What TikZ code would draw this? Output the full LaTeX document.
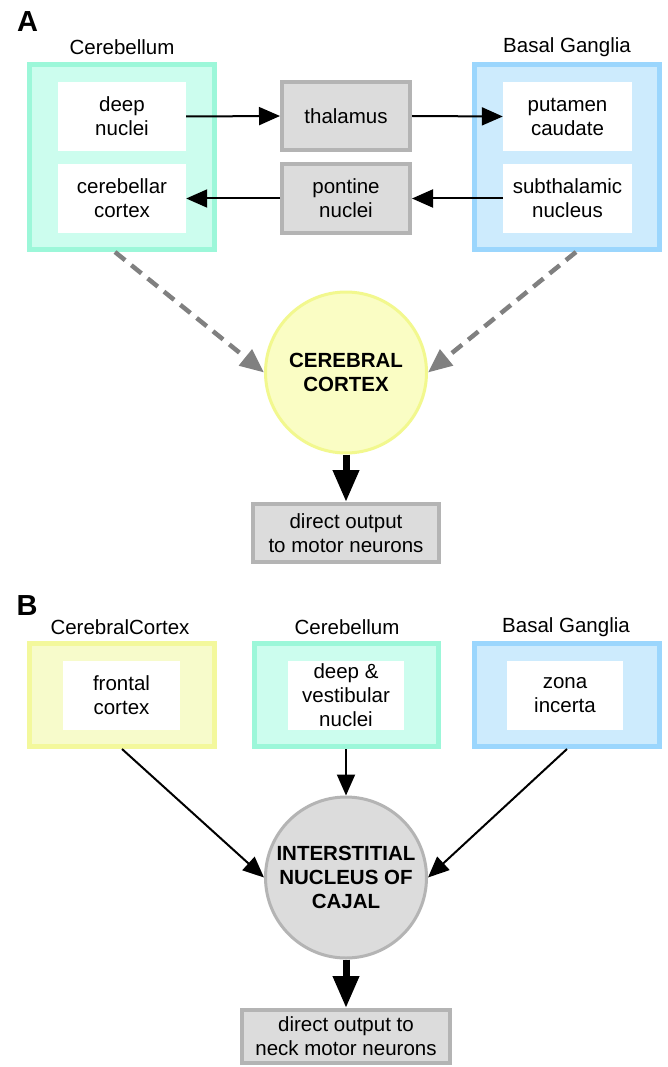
\documentclass[tikz,border=0pt]{standalone}
\usepackage{fontspec}
\setmainfont{Liberation Sans}
\usetikzlibrary{arrows.meta}
\definecolor{tealB}{HTML}{9CF7D9}
\definecolor{tealF}{HTML}{CCFDEE}
\definecolor{blueB}{HTML}{9BD6FD}
\definecolor{blueF}{HTML}{CDEBFD}
\definecolor{yelB}{HTML}{F3F89C}
\definecolor{yelF}{HTML}{F7FBCB}
\definecolor{cyelF}{HTML}{FAFDC4}
\definecolor{cyelB}{HTML}{F2F88E}
\definecolor{greyF}{HTML}{DCDCDC}
\definecolor{greyB}{HTML}{B4B4B4}
\definecolor{dashG}{HTML}{808080}
\begin{document}
\begin{tikzpicture}[x=1pt,y=-1pt,
  txt/.style={inner sep=0pt,font=\fontsize{20.5}{24}\selectfont, align=center, text=black},
  region/.style={inner sep=0pt,line width=5pt, minimum width=185pt},
  innerbox/.style={txt, fill=white, minimum height=69pt},
  greybox/.style={txt, draw=greyB, fill=greyF, line width=4pt},
  hub/.style={circle, inner sep=0pt, line width=3pt, font=\bfseries\fontsize{20.5}{24}\selectfont, align=center, minimum size=161pt},
  thinarrow/.style={line width=2pt, -{Triangle[length=21pt,width=18pt]}},
  dashy/.style={draw=dashG, line width=4.5pt, dash pattern=on 13pt off 8pt, -{Triangle[length=24pt,width=20pt]}},
  thickarrow/.style={line width=7pt, -{Triangle[length=32pt,width=25pt]}},
  panel/.style={inner sep=0pt,font=\bfseries\fontsize{29}{29}\selectfont}
]
\useasboundingbox (0,0) rectangle (667,1067);
\fill[white] (0,0) rectangle (667,1067);

% ---------- Panel A ----------
\node[panel] (labA) at (27.5,22) {A};
\node[txt] (tcbA) at (122,47) {Cerebellum};
\node[txt] (tbgA) at (567,47) {Basal Ganglia};

\node[region, draw=tealB, fill=tealF, minimum height=185pt] (cbA) at (122,157) {};
\node[region, draw=blueB, fill=blueF, minimum height=185pt] (bgA) at (567,157) {};

\node[innerbox, minimum width=128pt] (deepA) at (122,116.5) {deep\\nuclei};
\node[innerbox, minimum width=128pt] (ccA) at (122,198.5) {cerebellar\\cortex};
\node[innerbox, minimum width=129pt] (put) at (567.5,116.5) {putamen\\caudate};
\node[innerbox, minimum width=129pt] (sub) at (567.5,198.5) {subthalamic\\nucleus};

\node[greybox, minimum width=128pt, minimum height=68pt] (thal) at (346,116) {thalamus};
\node[greybox, minimum width=128pt, minimum height=69pt] (pont) at (346,198.5) {pontine\\nuclei};

\node[hub, draw=cyelB, fill=cyelF] (ccirc) at (346,372.5) {CEREBRAL\\CORTEX};
\node[greybox, minimum width=186pt, minimum height=58pt] (outA) at (346,533) {direct output\\to motor neurons};

\draw[thinarrow] (deepA.east) -- (thal.west);
\draw[thinarrow] (thal.east) -- (put.west);
\draw[thinarrow] (sub.west) -- (pont.east);
\draw[thinarrow] (pont.west) -- (ccA.east);

\coordinate (dA1) at (115,252);
\coordinate (dA2) at (576,252);
\draw[dashy] (dA1) -- (ccirc.west);
\draw[dashy] (dA2) -- (ccirc.east);
\draw[thickarrow] (ccirc.south) -- (outA.north);

% ---------- Panel B ----------
\node[panel] (labB) at (27,606) {B};
\node[txt] (tccB) at (120,627) {CerebralCortex};
\node[txt] (tcbB) at (347,627) {Cerebellum};
\node[txt] (tbgB) at (566,627) {Basal Ganglia};

\node[region, draw=yelB, fill=yelF, minimum height=103pt] (ccB) at (122,695) {};
\node[region, draw=tealB, fill=tealF, minimum height=103pt, minimum width=184pt] (cbB) at (346,695) {};
\node[region, draw=blueB, fill=blueF, minimum height=103pt] (bgB) at (567,695) {};

\node[innerbox, minimum width=117pt] (front) at (121.5,695.5) {frontal\\cortex};
\node[innerbox, minimum width=116pt] (dvn) at (346,695.5) {deep \&\\vestibular\\nuclei};
\node[innerbox, minimum width=116pt] (zona) at (565,695.5) {zona\\incerta};

\node[hub, draw=greyB, fill=greyF] (inc) at (346,877.5) {INTERSTITIAL\\NUCLEUS OF\\CAJAL};
\node[greybox, minimum width=208pt, minimum height=53pt] (outB) at (346,1036.5) {direct output to\\neck motor neurons};

\draw[thinarrow] (ccB.south) -- (inc.west);
\draw[thinarrow] (cbB.south) -- (inc.north);
\draw[thinarrow] (bgB.south) -- (inc.east);
\draw[thickarrow] (inc.south) -- (outB.north);
\end{tikzpicture}
\end{document}
